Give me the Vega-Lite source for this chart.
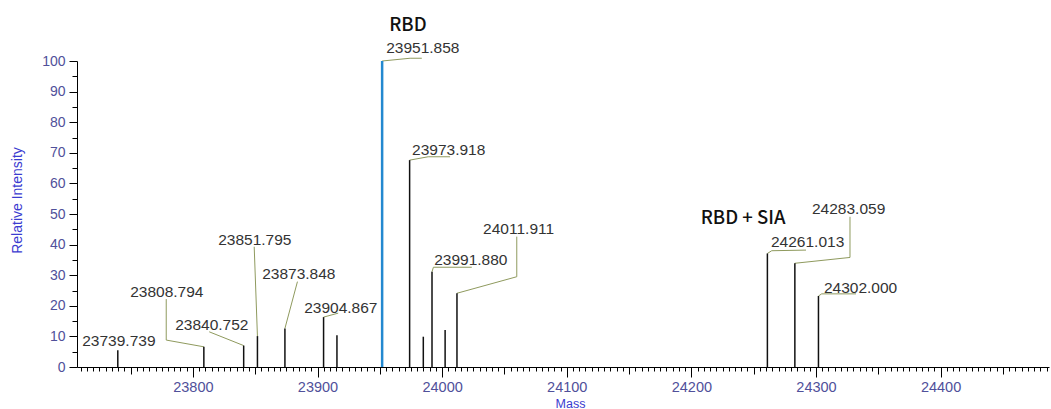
{
  "$schema": "https://vega.github.io/schema/vega-lite/v6.json",
  "width": 972,
  "height": 306,
  "autosize": {"type": "none"},
  "padding": {"left": 77, "top": 61, "right": 2, "bottom": 42},
  "background": "white",
  "config": {"view": {"stroke": null}, "font": "Liberation Sans"},
  "datasets": {
    "peaks": [
      {"mass": 23739.739, "intensity": 5.5, "label": "23739.739"},
      {"mass": 23808.794, "intensity": 6.6, "label": "23808.794"},
      {"mass": 23840.752, "intensity": 7.0, "label": "23840.752"},
      {"mass": 23851.795, "intensity": 10.1, "label": "23851.795"},
      {"mass": 23873.848, "intensity": 12.6, "label": "23873.848"},
      {"mass": 23904.867, "intensity": 16.3, "label": "23904.867"},
      {"mass": 23915.6, "intensity": 10.4, "label": ""},
      {"mass": 23951.858, "intensity": 100, "label": "23951.858"},
      {"mass": 23973.918, "intensity": 67.6, "label": "23973.918"},
      {"mass": 23984.9, "intensity": 9.9, "label": ""},
      {"mass": 23991.88, "intensity": 31.1, "label": "23991.880"},
      {"mass": 24002.4, "intensity": 12.1, "label": ""},
      {"mass": 24011.911, "intensity": 24.1, "label": "24011.911"},
      {"mass": 24261.013, "intensity": 37.1, "label": "24261.013"},
      {"mass": 24283.059, "intensity": 33.9, "label": "24283.059"},
      {"mass": 24302.0, "intensity": 23.2, "label": "24302.000"}
    ],
    "labels": [
      {"text": "23739.739", "mass": 23711.2, "intensity": 8.5},
      {"text": "23808.794", "mass": 23749.7, "intensity": 24.5},
      {"text": "23840.752", "mass": 23785.8, "intensity": 13.7},
      {"text": "23851.795", "mass": 23820.3, "intensity": 41.5},
      {"text": "23873.848", "mass": 23855.6, "intensity": 30.4},
      {"text": "23904.867", "mass": 23889.3, "intensity": 19.3},
      {"text": "23951.858", "mass": 23955.1, "intensity": 104.2},
      {"text": "23973.918", "mass": 23975.9, "intensity": 70.9},
      {"text": "23991.880", "mass": 23993.6, "intensity": 35.0},
      {"text": "24011.911", "mass": 24032.9, "intensity": 45.1},
      {"text": "24261.013", "mass": 24263.9, "intensity": 40.8},
      {"text": "24283.059", "mass": 24296.8, "intensity": 51.6},
      {"text": "24302.000", "mass": 24306.4, "intensity": 25.8}
    ],
    "leaders": [
      {"peak": "23808.794", "seq": 1, "mass": 23778.6, "intensity": 22.2},
      {"peak": "23808.794", "seq": 2, "mass": 23778.6, "intensity": 8.8},
      {"peak": "23808.794", "seq": 3, "mass": 23808.794, "intensity": 6.6},
      {"peak": "23840.752", "seq": 1, "mass": 23813.1, "intensity": 11.5},
      {"peak": "23840.752", "seq": 2, "mass": 23840.752, "intensity": 7.0},
      {"peak": "23851.795", "seq": 1, "mass": 23849.2, "intensity": 39.3},
      {"peak": "23851.795", "seq": 2, "mass": 23851.795, "intensity": 10.1},
      {"peak": "23873.848", "seq": 1, "mass": 23883.9, "intensity": 27.9},
      {"peak": "23873.848", "seq": 2, "mass": 23873.848, "intensity": 12.6},
      {"peak": "23904.867", "seq": 1, "mass": 23904.867, "intensity": 16.3},
      {"peak": "23904.867", "seq": 2, "mass": 23916.6, "intensity": 17.6},
      {"peak": "23951.858", "seq": 1, "mass": 23951.858, "intensity": 100},
      {"peak": "23951.858", "seq": 2, "mass": 23974.3, "intensity": 100.9},
      {"peak": "23951.858", "seq": 3, "mass": 23983.7, "intensity": 100.9},
      {"peak": "23973.918", "seq": 1, "mass": 23973.918, "intensity": 67.6},
      {"peak": "23973.918", "seq": 2, "mass": 23988.8, "intensity": 68.7},
      {"peak": "23973.918", "seq": 3, "mass": 24006.4, "intensity": 68.7},
      {"peak": "23991.880", "seq": 1, "mass": 23991.88, "intensity": 31.1},
      {"peak": "23991.880", "seq": 2, "mass": 23993.0, "intensity": 32.6},
      {"peak": "23991.880", "seq": 3, "mass": 24023.8, "intensity": 32.6},
      {"peak": "24011.911", "seq": 1, "mass": 24011.911, "intensity": 24.1},
      {"peak": "24011.911", "seq": 2, "mass": 24059.9, "intensity": 29.5},
      {"peak": "24011.911", "seq": 3, "mass": 24059.9, "intensity": 42.6},
      {"peak": "24261.013", "seq": 1, "mass": 24261.013, "intensity": 37.1},
      {"peak": "24261.013", "seq": 2, "mass": 24264.5, "intensity": 38.0},
      {"peak": "24261.013", "seq": 3, "mass": 24292.0, "intensity": 38.2},
      {"peak": "24283.059", "seq": 1, "mass": 24283.059, "intensity": 33.9},
      {"peak": "24283.059", "seq": 2, "mass": 24327.3, "intensity": 35.8},
      {"peak": "24283.059", "seq": 3, "mass": 24327.3, "intensity": 49.1},
      {"peak": "24302.000", "seq": 1, "mass": 24302.0, "intensity": 23.2},
      {"peak": "24302.000", "seq": 2, "mass": 24304.6, "intensity": 23.9},
      {"peak": "24302.000", "seq": 3, "mass": 24332.1, "intensity": 23.9}
    ],
    "notes": [
      {"text": "RBD", "mass": 23957.5, "intensity": 111.8},
      {"text": "RBD + SIA", "mass": 24207.5, "intensity": 48.7}
    ]
  },
  "encoding": {
    "x": {
      "field": "mass",
      "type": "quantitative",
      "scale": {"domain": [23707, 24487], "nice": false, "zero": false},
      "axis": {
        "title": "Mass",
        "format": "d",
        "tickCount": 156,
        "labelExpr": "datum.value % 100 == 0 ? datum.label : ''",
        "tickSize": {"condition": [{"test": "datum.value % 100 == 0", "value": 10}, {"test": "datum.value % 50 == 0", "value": 7}], "value": 4},
        "labelOverlap": false,
        "labelFlush": false,
        "grid": false,
        "domainColor": "#000000",
        "tickColor": "#000000",
        "labelColor": "#50509a",
        "labelFontSize": 14.5,
        "labelPadding": 3,
        "titleColor": "#3b3bd0",
        "titleFontSize": 12.5,
        "titleFontWeight": "normal",
        "titleX": 493,
        "titleY": 30,
        "titleBaseline": "top",
        "titleAlign": "center"
      }
    },
    "y": {
      "field": "intensity",
      "type": "quantitative",
      "scale": {"domain": [0, 100], "nice": false},
      "axis": {
        "title": "Relative Intensity",
        "tickCount": 20,
        "labelExpr": "datum.value % 10 == 0 ? datum.label : ''",
        "tickSize": {"condition": {"test": "datum.value % 10 == 0", "value": 8}, "value": 5},
        "labelOverlap": false,
        "labelFlush": false,
        "grid": false,
        "domainColor": "#000000",
        "tickColor": "#000000",
        "labelColor": "#50509a",
        "labelFontSize": 14,
        "labelPadding": 4,
        "titleColor": "#3b3bd0",
        "titleFontSize": 14,
        "titleFontWeight": "normal",
        "titleAngle": -90,
        "titleX": -60,
        "titleY": 139,
        "titleBaseline": "middle",
        "titleAlign": "center"
      }
    }
  },
  "layer": [
    {
      "data": {"name": "leaders"},
      "mark": {"type": "line", "color": "#8f9a5e", "strokeWidth": 1, "clip": false},
      "encoding": {
        "detail": {"field": "peak"},
        "order": {"field": "seq", "type": "quantitative"}
      }
    },
    {
      "data": {"name": "peaks"},
      "mark": {"type": "rule", "clip": false},
      "encoding": {
        "y2": {"datum": 0},
        "color": {"condition": {"test": "datum.label == '23951.858'", "value": "#2389d0"}, "value": "#111111"},
        "strokeWidth": {"condition": {"test": "datum.label == '23951.858'", "value": 2.5}, "value": 1.5}
      }
    },
    {
      "data": {"name": "labels"},
      "mark": {"type": "text", "align": "left", "baseline": "middle", "fontSize": 15.5, "color": "#333333", "font": "Liberation Sans", "clip": false},
      "encoding": {"text": {"field": "text"}}
    },
    {
      "data": {"name": "notes"},
      "mark": {"type": "text", "align": "left", "baseline": "middle", "fontSize": 18.5, "fontWeight": 500, "color": "#111111", "font": "Noto Sans CJK SC", "clip": false},
      "encoding": {"text": {"field": "text"}}
    }
  ]
}
